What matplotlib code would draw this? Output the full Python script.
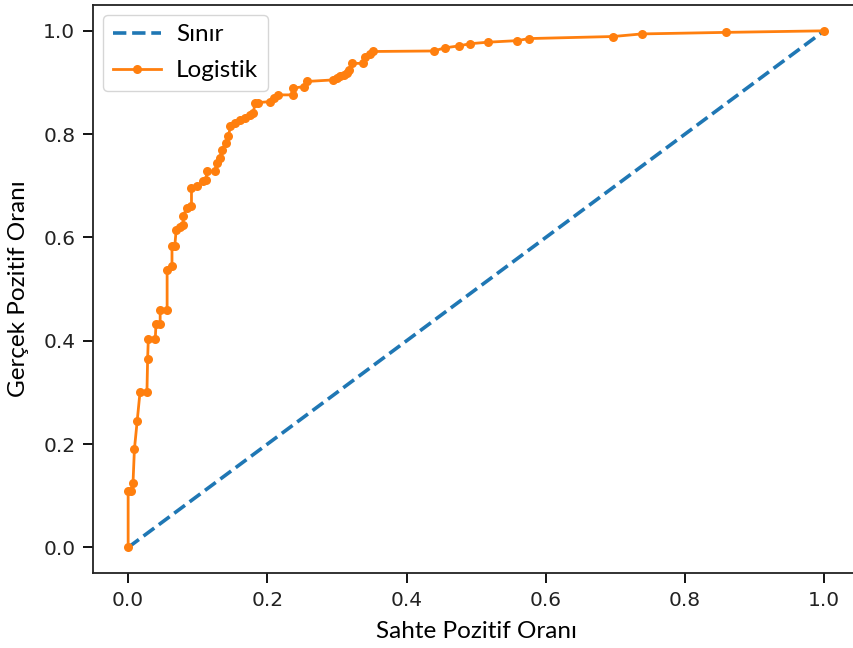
import matplotlib
matplotlib.use("Agg")
import matplotlib.pyplot as plt

# ROC curve values
fpr = [0.0, 0.0, 0.004, 0.007, 0.009, 0.013, 0.017, 0.027, 0.028, 0.029,
       0.039, 0.040, 0.046, 0.046, 0.056, 0.056, 0.063, 0.063, 0.067, 0.069,
       0.075, 0.079, 0.079, 0.084, 0.091, 0.091, 0.099, 0.108, 0.112, 0.113,
       0.125, 0.127, 0.132, 0.135, 0.140, 0.144, 0.147, 0.154, 0.161, 0.168,
       0.175, 0.180, 0.182, 0.186, 0.204, 0.209, 0.216, 0.237, 0.237, 0.252,
       0.257, 0.295, 0.300, 0.305, 0.310, 0.314, 0.318, 0.321, 0.338, 0.340,
       0.347, 0.352, 0.439, 0.455, 0.476, 0.491, 0.517, 0.559, 0.576, 0.697,
       0.738, 0.859, 1.0]
tpr = [0.0, 0.110, 0.110, 0.125, 0.190, 0.245, 0.300, 0.300, 0.365, 0.404,
       0.404, 0.433, 0.433, 0.460, 0.460, 0.538, 0.544, 0.583, 0.583, 0.615,
       0.621, 0.625, 0.641, 0.657, 0.660, 0.696, 0.699, 0.709, 0.712, 0.728,
       0.728, 0.744, 0.754, 0.770, 0.783, 0.796, 0.815, 0.822, 0.828, 0.831,
       0.838, 0.841, 0.860, 0.861, 0.863, 0.870, 0.876, 0.876, 0.889, 0.892,
       0.902, 0.905, 0.908, 0.912, 0.915, 0.918, 0.925, 0.937, 0.937, 0.950,
       0.955, 0.960, 0.961, 0.967, 0.971, 0.975, 0.978, 0.981, 0.985, 0.989,
       0.994, 0.997, 1.0]

ref_x = [0, 1]
ref_y = [0, 1]
ticks = [0.0, 0.2, 0.4, 0.6, 0.8, 1.0]

label_font = ["Lato", "DejaVu Sans"]

fig = plt.figure(figsize=(8.54, 6.48), dpi=100)
ax = fig.add_axes([0.1093, 0.1153, 0.8965, 0.877])

ax.plot(ref_x, ref_y, linestyle="--", color="#1f77b4", linewidth=2.6, label="Sınır")
ax.plot(fpr, tpr, marker="o", markersize=6.5, markeredgewidth=0,
        color="#ff7f0e", linewidth=2.0, label="Logistik")

ax.set_xlim(-0.05, 1.05)
ax.set_ylim(-0.05, 1.05)
ax.set_xticks(ticks)
ax.set_yticks(ticks)
ax.tick_params(labelsize=14.5, length=7, width=1.3, pad=6)
for lbl in ax.get_xticklabels() + ax.get_yticklabels():
    lbl.set_family("DejaVu Sans")
    lbl.set_color("#222222")
for s in ax.spines.values():
    s.set_linewidth(1.3)
    s.set_color("#222222")

ax.set_xlabel("Sahte Pozitif Oranı", fontsize=17.5, family=label_font, labelpad=8)
ax.set_ylabel("Gerçek Pozitif Oranı", fontsize=17.5, family=label_font, labelpad=10)

ax.legend(loc="upper left", prop={"family": label_font, "size": 17.5},
          handlelength=2.0, handletextpad=0.6, borderaxespad=0.4,
          labelspacing=0.6)

fig.savefig("out.png", dpi=100)
